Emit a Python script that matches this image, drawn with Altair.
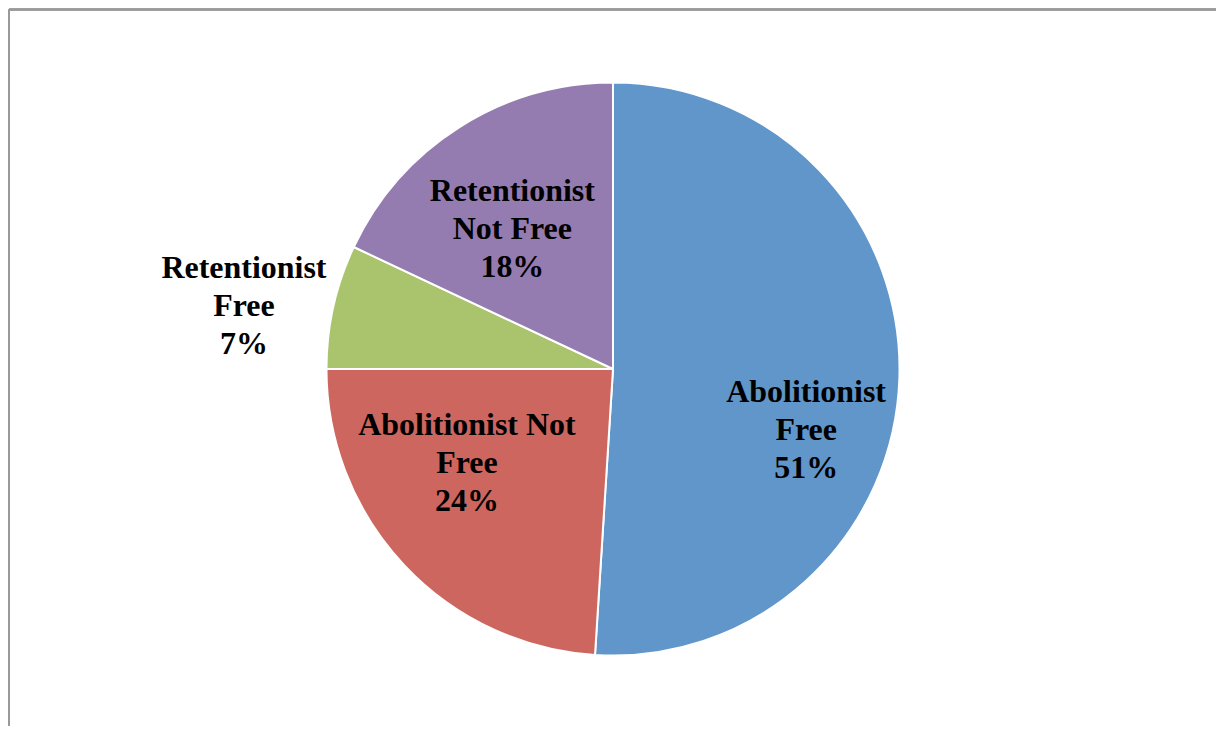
import math
import altair as alt
import pandas as pd

categories = ["Abolitionist Free", "Abolitionist Not Free", "Retentionist Free", "Retentionist Not Free"]
label_lines = [["Abolitionist", "Free", "51%"], ["Abolitionist Not", "Free", "24%"],
               ["Retentionist", "Free", "7%"], ["Retentionist", "Not Free", "18%"]]
percents = [51, 24, 7, 18]
order = [1, 2, 3, 4]
colors = ["#6096C9", "#CD665F", "#AAC46E", "#947CB1"]

df = pd.DataFrame({"cat": categories, "pct": percents, "ord": order,
                   "label": label_lines})

W, H = 1209, 717
CX, CY, R = 605, 360, 287

base = alt.Chart(df)

pie = base.mark_arc(outerRadius=R, stroke="white", strokeWidth=2).encode(
    theta=alt.Theta("pct:Q", stack=True),
    order=alt.Order("ord:Q"),
    color=alt.Color("cat:N", scale=alt.Scale(domain=categories, range=colors), legend=None),
    x=alt.value(CX), y=alt.value(CY),
)

# label placement: stacked mid-angle with best-fit style tweaks
labels = base.transform_window(
    cum="sum(pct)", sort=[alt.SortField("ord")]
).transform_calculate(
    mid="datum.cum - datum.pct/2 + (datum.cat == 'Abolitionist Free' ? 4.4 : datum.cat == 'Abolitionist Not Free' ? 2.9 : datum.cat == 'Retentionist Free' ? -0.8 : -0.9)",
    lr="datum.cat == 'Abolitionist Free' ? 203 : datum.cat == 'Abolitionist Not Free' ? 174 : datum.cat == 'Retentionist Free' ? 375 : 173",
).mark_text(font="Liberation Serif", fontWeight="bold", fontSize=32, lineHeight=38,
            align="center", baseline="middle", dy=-38, color="black").encode(
    theta=alt.Theta("mid:Q", stack=None, scale=alt.Scale(domain=[0, 100], range=[0, 2 * math.pi])),
    radius=alt.Radius("lr:Q", scale=None),
    text="label",
    x=alt.value(CX), y=alt.value(CY),
)

border_top = base.mark_rule(color="#999999", strokeWidth=2).encode(
    x=alt.value(0), x2=alt.value(W), y=alt.value(0))
border_left = base.mark_rule(color="#999999", strokeWidth=2).encode(
    x=alt.value(0), y=alt.value(0), y2=alt.value(H))

chart = alt.layer(pie, labels, border_top, border_left).properties(
    width=W, height=H, padding=0
).configure_view(stroke=None)

chart.save("out.html", embed_options={"renderer": "svg", "actions": False})
